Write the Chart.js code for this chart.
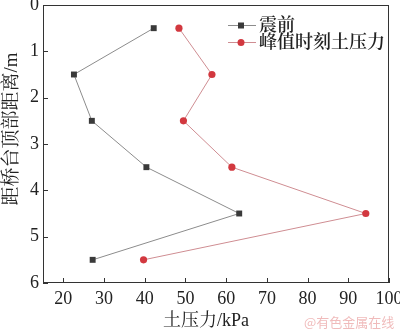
<!DOCTYPE html>
<html>
<head>
<meta charset="utf-8">
<script src="https://cdn.jsdelivr.net/npm/chart.js@4"></script>
<style>
  html, body { margin: 0; padding: 0; background: #fff; }
  #c { display: block; }
</style>
</head>
<body>
<canvas id="c" width="400" height="330"></canvas>
<script>
const depth = [0.5, 1.5, 2.5, 3.5, 4.5, 5.5];
const before = [42.2, 22.6, 27.0, 40.4, 63.2, 27.2];
const peak = [48.4, 56.5, 49.5, 61.4, 94.3, 39.7];
const xTicks = [20, 30, 40, 50, 60, 70, 80, 90, 100];
const yTicks = [0, 1, 2, 3, 4, 5, 6];
const names = ['震前', '峰值时刻土压力'];

const serif = "'Liberation Serif', 'Noto Serif CJK SC', serif";

const toPts = (xs) => xs.map((v, i) => ({ x: v, y: depth[i] }));

const frame = {
  id: 'frame',
  afterDraw(chart) {
    const { ctx, chartArea: a, scales } = chart;
    ctx.save();
    ctx.strokeStyle = '#333';
    ctx.lineWidth = 1;
    ctx.strokeRect(a.left + 0.5, a.top + 0.5, a.right - a.left - 1, a.bottom - a.top - 1);
    // inward ticks
    ctx.beginPath();
    xTicks.forEach(v => {
      const px = Math.round(scales.x.getPixelForValue(v)) + 0.5;
      ctx.moveTo(px, a.bottom);
      ctx.lineTo(px, a.bottom - 5);
    });
    yTicks.forEach(v => {
      const py = Math.round(scales.y.getPixelForValue(v)) + 0.5;
      ctx.moveTo(a.left, py);
      ctx.lineTo(a.left + 5, py);
    });
    ctx.stroke();

    // legend
    const ds = chart.data.datasets;
    ctx.font = '600 18px ' + serif;
    ctx.textBaseline = 'middle';
    ds.forEach((d, i) => {
      const y = 25 + i * 17;
      ctx.strokeStyle = d.borderColor;
      ctx.lineWidth = 1;
      ctx.beginPath();
      ctx.moveTo(228, y + 0.5);
      ctx.lineTo(256, y + 0.5);
      ctx.stroke();
      ctx.fillStyle = d.pointBackgroundColor;
      if (d.pointStyle === 'rect') {
        ctx.fillRect(238, y - 2.5, 6, 6);
      } else {
        ctx.beginPath();
        ctx.arc(241, y + 0.5, 3.5, 0, Math.PI * 2);
        ctx.fill();
      }
      ctx.fillStyle = '#222';
      ctx.textAlign = 'left';
      ctx.fillText(d.label, 259, y + 1);
    });

    // axis titles
    ctx.fillStyle = '#222';
    ctx.font = '18px ' + serif;
    ctx.textAlign = 'center';
    ctx.fillText('土压力/kPa', 206, 321);
    ctx.save();
    ctx.translate(12, 129);
    ctx.rotate(-Math.PI / 2);
    ctx.font = '19px ' + serif;
    ctx.fillText('距桥台顶部距离/m', 0, 0);
    ctx.restore();

    // watermark
    ctx.font = "13px 'Noto Sans CJK SC', sans-serif";
    ctx.fillStyle = 'rgba(232, 150, 150, 0.65)';
    ctx.textAlign = 'left';
    ctx.fillText('@有色金属在线', 304, 322);
    ctx.restore();
  }
};

new Chart(document.getElementById('c'), {
  type: 'line',
  data: {
    datasets: [
      {
        label: names[0],
        data: toPts(before),
        borderColor: '#8c8c8c',
        borderWidth: 1,
        pointStyle: 'rect',
        pointRadius: 4.2,
        pointBackgroundColor: '#3a3a3a',
        pointBorderWidth: 0,
        tension: 0
      },
      {
        label: names[1],
        data: toPts(peak),
        borderColor: '#cf8d92',
        borderWidth: 1,
        pointStyle: 'circle',
        pointRadius: 3.6,
        pointBackgroundColor: '#d2383f',
        pointBorderWidth: 0,
        tension: 0
      }
    ]
  },
  options: {
    responsive: false,
    animation: false,
    layout: { padding: { top: 5, right: 11, left: 0, bottom: 0 } },
    plugins: {
      legend: { display: false },
      tooltip: { enabled: false }
    },
    scales: {
      x: {
        type: 'linear',
        min: 15,
        max: 100,
        grid: { display: false, drawTicks: false },
        border: { display: false },
        afterBuildTicks: s => { s.ticks = xTicks.map(v => ({ value: v })); },
        afterFit: s => { s.height = 47; s.paddingLeft = 0; s.paddingRight = 0; },
        ticks: { color: '#222', font: { family: serif, size: 18 }, padding: 5, maxRotation: 0 }
      },
      y: {
        type: 'linear',
        reverse: true,
        min: 0,
        max: 6,
        grid: { display: false, drawTicks: false },
        border: { display: false },
        afterBuildTicks: s => { s.ticks = yTicks.map(v => ({ value: v })); },
        afterFit: s => { s.width = 43; s.paddingTop = 0; s.paddingBottom = 0; },
        ticks: { color: '#222', font: { family: serif, size: 18 }, padding: 4 }
      }
    }
  },
  plugins: [frame]
});
</script>
</body>
</html>
